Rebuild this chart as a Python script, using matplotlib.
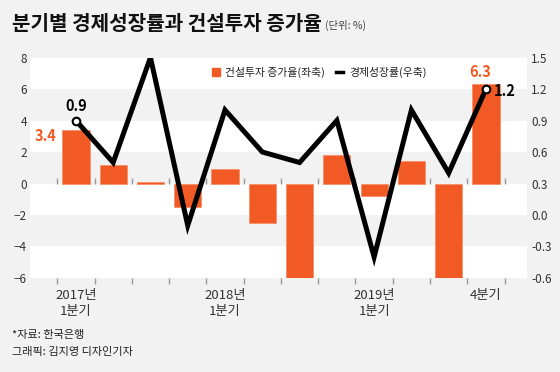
import numpy as np
import matplotlib.pyplot as plt
from matplotlib.lines import Line2D
from matplotlib.ticker import FormatStrFormatter

plt.rcParams['font.family'] = ['Noto Sans CJK KR', 'DejaVu Sans']

# 2017 Q1 .. 2019 Q4
quarters = ['2017년\n1분기', '', '', '', '2018년\n1분기', '', '', '',
            '2019년\n1분기', '', '', '4분기']
construction = [3.4, 1.2, 0.1, -1.5, 0.9, -2.5, -6.4, 1.8, -0.8, 1.4, -6.3, 6.3]
gdp_growth = [0.9, 0.5, 1.5, -0.1, 1.0, 0.6, 0.5, 0.9, -0.4, 1.0, 0.4, 1.2]

left_ticks = [-6, -4, -2, 0, 2, 4, 6, 8]
right_ticks = [-0.6, -0.3, 0.0, 0.3, 0.6, 0.9, 1.2, 1.5]

bg = '#f2f2f2'
orange = '#f15a24'
tick_col = '#333333'

fig = plt.figure(figsize=(5.6, 3.72), dpi=100, facecolor=bg)
ax = fig.add_axes([0.053, 0.2527, 0.888, 0.5927])
ax.set_facecolor(bg)

x = np.arange(len(construction))
ax.set_xlim(-1.24, 12.1)
ax.set_ylim(left_ticks[0], left_ticks[-1])

# white bands
for lo in left_ticks[::4]:
    ax.axhspan(lo, lo + 2, color='white', lw=0, zorder=0)
for lo in left_ticks[2::4]:
    ax.axhspan(lo, lo + 2, color='white', lw=0, zorder=0)

ax.bar(x, construction, width=0.73, color=orange, edgecolor='#f6906a',
       linewidth=0.6, zorder=2)

# little separators on the zero line
bounds = np.arange(len(construction) + 1) - 0.5
ax.vlines(bounds, 0, 0.35, color='#999999', lw=1, zorder=1)

for s in ax.spines.values():
    s.set_visible(False)
ax.set_yticks(left_ticks)
ax.tick_params(axis='y', length=0, pad=2, labelsize=8.5, labelcolor=tick_col)
ax.set_xticks(x, quarters)
ax.tick_params(axis='x', which='major', length=0, pad=8, labelsize=9.5,
               labelcolor=tick_col)
for lbl in ax.get_xticklabels():
    lbl.set_linespacing(1.3)
ax.set_xticks(bounds, minor=True)
ax.tick_params(axis='x', which='minor', length=4, width=1, color='#999999',
               direction='out')

ax.annotate(f'{construction[0]:.1f}', (x[0], construction[0]),
            xytext=(-22, -4.5), textcoords='offset points', ha='center',
            va='center', color=orange, fontsize=10.5, fontweight='bold')
ax.annotate(f'{construction[-1]:.1f}', (x[-1], construction[-1]),
            xytext=(-4.3, 8.5), textcoords='offset points', ha='center',
            va='center', color=orange, fontsize=10.5, fontweight='bold')

ax2 = ax.twinx()
ax2.set_ylim(right_ticks[0], right_ticks[-1])
ax2.plot(x, gdp_growth, color='black', lw=3.6, solid_joinstyle='miter',
         zorder=3)
ax2.plot([x[0], x[-1]], [gdp_growth[0], gdp_growth[-1]], 'o', ms=5.5,
         mfc='white', mec='black', mew=1.5, zorder=4)
for s in ax2.spines.values():
    s.set_visible(False)
ax2.set_yticks(right_ticks)
ax2.yaxis.set_major_formatter(FormatStrFormatter('%.1f'))
ax2.tick_params(axis='y', length=0, pad=3, labelsize=8.5, labelcolor=tick_col)

ax2.annotate(f'{gdp_growth[0]:.1f}', (x[0], gdp_growth[0]),
             xytext=(0.6, 10.4), textcoords='offset points', ha='center',
             va='center', color='black', fontsize=10.5, fontweight='bold')
ax2.annotate(f'{gdp_growth[-1]:.1f}', (x[-1], gdp_growth[-1]),
             xytext=(13.2, -1.3), textcoords='offset points', ha='center',
             va='center', color='black', fontsize=10.5, fontweight='bold')

handles = [Line2D([], [], marker='s', ls='none', color=orange, ms=6),
           Line2D([], [], color='black', lw=2.5)]
ax2.legend(handles, ['건설투자 증가율(좌축)', '경제성장률(우축)'],
           loc='center', bbox_to_anchor=(0.57, 0.805),
           bbox_transform=fig.transFigure, ncol=2, frameon=False,
           fontsize=7.8, handlelength=0.7, handletextpad=0.5,
           columnspacing=1.0, labelcolor='#222222')

fig.text(0.021, 0.936, '분기별 경제성장률과 건설투자 증가율', fontsize=14.5,
         fontweight='bold', color='#111111', va='center', ha='left')
fig.text(0.58, 0.932, '(단위: %)', fontsize=7.5, color='#444444',
         va='center', ha='left')
fig.text(0.021, 1 - 335 / 372, '*자료: 한국은행', fontsize=8,
         color='#222222', va='center')
fig.text(0.021, 1 - 352 / 372, '그래픽: 김지영 디자인기자', fontsize=8,
         color='#222222', va='center')

fig.savefig('out.png', dpi=100, facecolor=bg)
